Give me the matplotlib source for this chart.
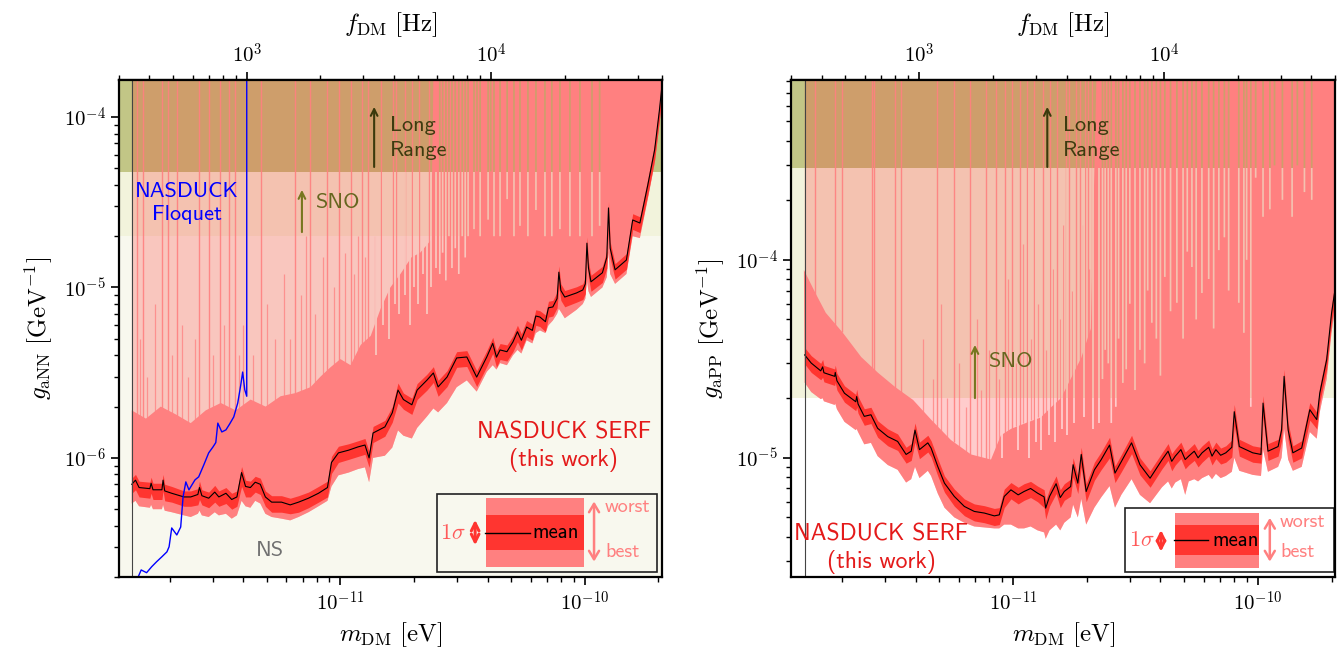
import numpy as np
import matplotlib
matplotlib.use('Agg')
import matplotlib.pyplot as plt
from matplotlib.colors import to_rgb
from matplotlib.patches import Rectangle
from matplotlib.ticker import FuncFormatter, NullFormatter

plt.rcParams['mathtext.fontset'] = 'cm'
plt.rcParams['axes.unicode_minus'] = False

H_EVS = 4.135667e-15   # eV s, m = h f
TOP = 1e-2             # above every y-limit
F_MIN, F_MAX = 300.0, 5e4
SNO_G = 2e-5

# ---------------- left panel: g_aNN ----------------
mL = [1.40e-12, 1.45e-12, 1.50e-12, 1.66e-12, 1.68e-12, 1.71e-12, 1.86e-12, 1.88e-12, 1.91e-12, 2.04e-12,
      2.29e-12, 2.44e-12, 2.61e-12, 2.65e-12, 2.71e-12, 2.89e-12, 3.06e-12, 3.18e-12, 3.40e-12, 3.59e-12,
      3.77e-12, 3.94e-12, 4.09e-12, 4.28e-12, 4.48e-12, 4.70e-12, 4.93e-12, 5.23e-12, 5.74e-12, 6.23e-12,
      6.74e-12, 7.40e-12, 8.13e-12, 8.85e-12, 9.19e-12, 9.81e-12, 1.08e-11, 1.18e-11, 1.26e-11, 1.31e-11,
      1.36e-11, 1.52e-11, 1.63e-11, 1.72e-11, 1.81e-11, 1.96e-11, 2.06e-11, 2.26e-11, 2.40e-11, 2.51e-11,
      2.73e-11, 2.99e-11, 3.29e-11, 3.61e-11, 3.97e-11, 4.20e-11, 4.35e-11, 4.50e-11, 4.80e-11, 5.08e-11,
      5.30e-11, 5.50e-11, 5.78e-11, 6.10e-11, 6.30e-11, 6.55e-11, 6.90e-11, 7.10e-11, 7.40e-11, 7.70e-11,
      7.83e-11, 7.98e-11, 8.28e-11, 9.25e-11, 9.81e-11, 1.005e-10, 1.02e-10, 1.035e-10, 1.06e-10, 1.18e-10,
      1.23e-10, 1.25e-10, 1.27e-10, 1.33e-10, 1.48e-10, 1.57e-10, 1.68e-10, 1.81e-10, 1.93e-10, 2.02e-10,
      2.08e-10]
meanL = [7.0e-7, 7.4e-7, 6.7e-7, 6.6e-7, 7.1e-7, 6.5e-7, 6.5e-7, 7.4e-7, 6.4e-7, 6.2e-7,
         5.9e-7, 5.9e-7, 6.1e-7, 6.7e-7, 6.0e-7, 5.8e-7, 6.3e-7, 5.9e-7, 6.2e-7, 5.7e-7,
         5.9e-7, 8.2e-7, 6.8e-7, 6.7e-7, 7.2e-7, 7.0e-7, 5.9e-7, 5.5e-7, 5.5e-7, 5.3e-7,
         5.5e-7, 5.8e-7, 6.2e-7, 6.7e-7, 9.4e-7, 1.07e-6, 1.11e-6, 1.16e-6, 1.19e-6, 1.0e-6,
         1.40e-6, 1.52e-6, 1.84e-6, 2.5e-6, 2.2e-6, 2.05e-6, 2.5e-6, 2.86e-6, 3.15e-6, 2.61e-6,
         2.98e-6, 3.86e-6, 3.91e-6, 2.98e-6, 3.91e-6, 4.7e-6, 3.9e-6, 4.30e-6, 4.2e-6, 4.79e-6,
         5.5e-6, 4.9e-6, 5.86e-6, 5.6e-6, 6.8e-6, 6.71e-6, 6.3e-6, 7.6e-6, 7.69e-6, 8.6e-6,
         1.23e-5, 9.6e-6, 8.79e-6, 9.29e-6, 9.67e-6, 1.05e-5, 1.82e-5, 1.3e-5, 1.08e-5, 1.22e-5,
         1.5e-5, 2.93e-5, 1.7e-5, 1.27e-5, 1.45e-5, 2.49e-5, 2.39e-5, 3.99e-5, 6.40e-5, 1.10e-4,
         1.65e-4]
sigloL = [6.2e-7, 6.5e-7, 5.9e-7, 5.8e-7, 6.2e-7, 5.7e-7, 5.7e-7, 6.4e-7, 5.6e-7, 5.5e-7,
          5.2e-7, 5.2e-7, 5.3e-7, 5.7e-7, 5.3e-7, 5.1e-7, 5.5e-7, 5.2e-7, 5.4e-7, 5.0e-7,
          5.2e-7, 6.8e-7, 5.9e-7, 5.9e-7, 6.3e-7, 6.1e-7, 5.2e-7, 4.8e-7, 4.8e-7, 4.7e-7,
          4.8e-7, 5.1e-7, 5.5e-7, 5.9e-7, 8.1e-7, 9.4e-7, 9.8e-7, 1.02e-6, 1.05e-6, 8.8e-7,
          1.23e-6, 1.34e-6, 1.62e-6, 2.1e-6, 1.93e-6, 1.80e-6, 2.2e-6, 2.5e-6, 2.77e-6, 2.3e-6,
          2.62e-6, 3.4e-6, 3.44e-6, 2.62e-6, 3.44e-6, 4.1e-6, 3.4e-6, 3.78e-6, 3.7e-6, 4.2e-6,
          4.8e-6, 4.3e-6, 5.15e-6, 4.9e-6, 6.0e-6, 5.9e-6, 5.5e-6, 6.7e-6, 6.8e-6, 7.6e-6,
          1.0e-5, 8.4e-6, 7.7e-6, 8.2e-6, 8.5e-6, 9.2e-6, 1.5e-5, 1.14e-5, 9.5e-6, 1.07e-5,
          1.3e-5, 2.4e-5, 1.48e-5, 1.12e-5, 1.28e-5, 2.19e-5, 2.1e-5, 3.5e-5, 5.6e-5, 9.7e-5,
          1.45e-4]
sighiL = [7.6e-7, 8.0e-7, 7.3e-7, 7.2e-7, 7.7e-7, 7.1e-7, 7.1e-7, 8.0e-7, 7.0e-7, 6.8e-7,
          6.4e-7, 6.4e-7, 6.6e-7, 7.3e-7, 6.5e-7, 6.3e-7, 6.9e-7, 6.4e-7, 6.7e-7, 6.2e-7,
          6.4e-7, 8.9e-7, 7.4e-7, 7.3e-7, 7.8e-7, 7.6e-7, 6.4e-7, 6.0e-7, 6.0e-7, 5.8e-7,
          6.0e-7, 6.3e-7, 6.8e-7, 7.3e-7, 1.02e-6, 1.17e-6, 1.21e-6, 1.26e-6, 1.30e-6, 1.09e-6,
          1.53e-6, 1.66e-6, 2.0e-6, 2.75e-6, 2.4e-6, 2.24e-6, 2.73e-6, 3.1e-6, 3.43e-6, 2.85e-6,
          3.25e-6, 4.2e-6, 4.26e-6, 3.25e-6, 4.26e-6, 5.1e-6, 4.25e-6, 4.69e-6, 4.6e-6, 5.2e-6,
          6.0e-6, 5.35e-6, 6.4e-6, 6.1e-6, 7.4e-6, 7.3e-6, 6.9e-6, 8.3e-6, 8.4e-6, 9.4e-6,
          1.34e-5, 1.05e-5, 9.6e-6, 1.01e-5, 1.05e-5, 1.15e-5, 1.98e-5, 1.42e-5, 1.18e-5, 1.33e-5,
          1.64e-5, 3.2e-5, 1.85e-5, 1.38e-5, 1.58e-5, 2.71e-5, 2.6e-5, 4.35e-5, 7.0e-5, 1.2e-4,
          1.8e-4]
bestL = [5.4e-7, 5.6e-7, 5.2e-7, 5.1e-7, 5.3e-7, 5.0e-7, 5.0e-7, 5.3e-7, 4.9e-7, 4.8e-7,
         4.6e-7, 4.5e-7, 4.7e-7, 4.9e-7, 4.6e-7, 4.5e-7, 4.8e-7, 4.6e-7, 4.7e-7, 4.4e-7,
         4.6e-7, 5.6e-7, 5.2e-7, 5.1e-7, 5.6e-7, 5.4e-7, 4.7e-7, 4.5e-7, 4.4e-7, 4.3e-7,
         4.5e-7, 4.8e-7, 5.2e-7, 5.6e-7, 6.8e-7, 7.9e-7, 8.2e-7, 8.6e-7, 8.8e-7, 7.2e-7,
         1.0e-6, 1.03e-6, 1.15e-6, 1.45e-6, 1.35e-6, 1.3e-6, 1.5e-6, 1.75e-6, 1.95e-6, 1.85e-6,
         2.1e-6, 2.6e-6, 2.85e-6, 2.45e-6, 3.2e-6, 3.5e-6, 3.3e-6, 3.6e-6, 3.5e-6, 4.0e-6,
         4.3e-6, 4.1e-6, 4.9e-6, 4.7e-6, 5.4e-6, 5.6e-6, 5.4e-6, 6.0e-6, 6.4e-6, 7.0e-6,
         7.5e-6, 7.2e-6, 6.6e-6, 7.4e-6, 8.0e-6, 8.6e-6, 1.1e-5, 9.5e-6, 8.8e-6, 1.0e-5,
         1.15e-5, 1.6e-5, 1.2e-5, 1.05e-5, 1.2e-5, 2.0e-5, 1.95e-5, 3.3e-5, 5.3e-5, 9.0e-5,
         1.35e-4]
# upper edge of the best-worst band, before it runs off the top
worst_mL = [1.40e-12, 1.60e-12, 1.84e-12, 2.12e-12, 2.44e-12, 2.81e-12, 3.24e-12, 3.73e-12, 4.29e-12,
            4.94e-12, 5.69e-12, 6.54e-12, 7.54e-12, 8.29e-12, 9.10e-12, 1.0e-11, 1.10e-11, 1.21e-11,
            1.33e-11, 1.46e-11, 1.60e-11, 1.76e-11, 1.95e-11, 2.12e-11, 2.35e-11, 2.50e-11]
worst_gL = [1.9e-6, 1.7e-6, 2.0e-6, 1.8e-6, 1.6e-6, 1.9e-6, 2.1e-6, 1.9e-6, 2.2e-6,
            2.0e-6, 2.3e-6, 2.4e-6, 2.6e-6, 3.0e-6, 3.4e-6, 3.8e-6, 3.5e-6, 4.6e-6,
            5.2e-6, 7.5e-6, 1.0e-5, 1.2e-5, 1.5e-5, 1.6e-5, 1.9e-5, TOP]
# pale streaks cutting down into the band where it reaches the top
gap_mL = [2.55e-11, 2.62e-11, 2.70e-11, 2.78e-11, 2.86e-11, 2.95e-11, 3.05e-11, 3.15e-11, 3.24e-11,
          3.33e-11, 3.52e-11, 3.62e-11, 3.73e-11, 4.02e-11, 4.12e-11, 4.25e-11, 4.50e-11, 4.81e-11,
          5.13e-11, 5.43e-11, 5.85e-11, 6.31e-11, 6.87e-11, 7.33e-11, 7.91e-11, 8.69e-11, 9.55e-11,
          1.07e-10, 1.15e-10]
gap_gL = [1.2e-5, 1.6e-5, 1.1e-5, 2.0e-5, 1.3e-5, 1.7e-5, 1.2e-5, 2.0e-5, 1.5e-5,
          2.0e-5, 2.2e-5, 4.8e-5, 2.0e-5, 2.5e-5, 4.8e-5, 2.0e-5, 2.0e-5, 3.3e-5,
          2.0e-5, 2.3e-5, 2.0e-5, 2.85e-5, 2.0e-5, 2.0e-5, 2.2e-5, 2.0e-5, 2.0e-5,
          2.0e-5, 2.3e-5]
# pale streaks inside the lower, sloping part of the band (lower ends)
str_mL = [1.40e-11, 1.49e-11, 1.58e-11, 1.67e-11, 1.74e-11, 1.83e-11, 1.92e-11, 2.00e-11, 2.08e-11,
          2.17e-11, 2.25e-11, 2.34e-11, 2.45e-11]
str_loL = [4.0e-6, 6.0e-6, 5.0e-6, 8.0e-6, 7.0e-6, 9.0e-6, 6.0e-6, 1.0e-5, 8.0e-6,
           1.2e-5, 7.0e-6, 1.0e-5, 1.3e-5]
# red streaks reaching the top
spk_mL = [1.47e-12, 1.56e-12, 1.86e-12, 1.97e-12, 2.14e-12, 2.63e-12, 2.89e-12, 3.21e-12, 3.49e-12,
          3.69e-12, 4.71e-12, 6.54e-12, 7.54e-12, 8.85e-12, 9.91e-12, 1.10e-11, 1.22e-11, 1.30e-11,
          1.46e-11, 1.64e-11, 1.69e-11, 1.84e-11, 1.97e-11, 2.10e-11, 2.31e-11, 2.42e-11]
spk_loL = [1.7e-6, 1.6e-6, 1.7e-6, 1.7e-6, 1.6e-6, 1.5e-6, 1.6e-6, 1.8e-6, 1.7e-6,
           1.7e-6, 1.8e-6, 2.2e-6, 2.4e-6, 3.0e-6, 3.4e-6, 3.3e-6, 4.2e-6, 4.8e-6,
           7e-6, 9e-6, 9.5e-6, 1.2e-5, 1.4e-5, 1.5e-5, 1.7e-5, 1.8e-5]
# shorter red streaks in the pale region
psk_mL = [1.52e-12, 1.62e-12, 1.75e-12, 2.05e-12, 2.25e-12, 2.38e-12, 2.55e-12, 3.0e-12, 3.35e-12,
          3.85e-12, 4.0e-12, 4.4e-12, 5.0e-12, 5.4e-12, 5.9e-12, 6.2e-12, 6.9e-12, 7.2e-12,
          7.9e-12, 8.5e-12, 9.4e-12, 1.04e-11, 1.14e-11, 1.18e-11, 1.26e-11, 1.38e-11]
psk_loL = [1.7e-6, 1.6e-6, 1.8e-6, 1.7e-6, 1.6e-6, 1.6e-6, 1.6e-6, 1.8e-6, 2.0e-6,
           1.9e-6, 1.9e-6, 2.0e-6, 2.0e-6, 2.1e-6, 2.2e-6, 2.3e-6, 2.4e-6, 2.5e-6,
           2.7e-6, 3.0e-6, 3.3e-6, 3.6e-6, 3.5e-6, 4.0e-6, 4.6e-6, 5.0e-6]
psk_hiL = [5e-6, 3e-6, 8e-6, 4e-6, 6e-6, 3e-6, 5e-6, 4e-6, 6e-6,
           4e-6, 6e-6, 4e-6, 8e-6, 5e-6, 1.2e-5, 5e-6, 9e-6, 2e-5,
           7e-6, 1.5e-5, 1e-5, 1.6e-5, 1.2e-5, 2e-5, 1.5e-5, 2e-5]
# NASDUCK Floquet (left panel only)
flq_m = [1.44e-12, 1.53e-12, 1.61e-12, 1.69e-12, 1.77e-12, 1.86e-12, 1.95e-12, 1.99e-12, 2.04e-12,
         2.14e-12, 2.22e-12, 2.27e-12, 2.33e-12, 2.40e-12, 2.44e-12, 2.54e-12, 2.63e-12, 2.76e-12,
         2.89e-12, 3.01e-12, 3.09e-12, 3.15e-12, 3.27e-12, 3.40e-12, 3.52e-12, 3.66e-12, 3.80e-12,
         3.91e-12, 3.98e-12, 4.06e-12, 4.136e-12, 4.136e-12]
flq_g = [1.8e-7, 2.2e-7, 2.12e-7, 2.30e-7, 2.46e-7, 2.63e-7, 2.81e-7, 3.01e-7, 3.88e-7,
         3.53e-7, 3.93e-7, 5.90e-7, 7.23e-7, 6.49e-7, 6.76e-7, 7.43e-7, 7.74e-7, 9.10e-7,
         1.07e-6, 1.16e-6, 1.23e-6, 1.60e-6, 1.42e-6, 1.46e-6, 1.58e-6, 1.74e-6, 2.10e-6,
         2.68e-6, 3.19e-6, 2.51e-6, 2.3e-6, TOP]

# ---------------- right panel: g_aPP ----------------
mR = [1.41e-12, 1.50e-12, 1.64e-12, 1.67e-12, 1.69e-12, 1.87e-12, 1.88e-12, 1.91e-12, 2.05e-12, 2.28e-12,
      2.30e-12, 2.33e-12, 2.47e-12, 2.63e-12, 2.80e-12, 3.08e-12, 3.38e-12, 3.66e-12, 3.84e-12, 3.98e-12,
      4.15e-12, 4.49e-12, 4.63e-12, 4.93e-12, 5.25e-12, 5.76e-12, 6.33e-12, 6.95e-12, 7.64e-12, 8.39e-12,
      8.79e-12, 9.21e-12, 9.81e-12, 1.05e-11, 1.11e-11, 1.18e-11, 1.26e-11, 1.34e-11, 1.36e-11, 1.41e-11,
      1.50e-11, 1.56e-11, 1.62e-11, 1.72e-11, 1.76e-11, 1.84e-11, 1.90e-11, 1.99e-11, 2.15e-11, 2.29e-11,
      2.48e-11, 2.61e-11, 2.77e-11, 3.05e-11, 3.30e-11, 3.63e-11, 4.06e-11, 4.30e-11, 4.45e-11, 4.60e-11,
      4.85e-11, 5.05e-11, 5.22e-11, 5.50e-11, 5.70e-11, 5.92e-11, 6.30e-11, 6.50e-11, 6.74e-11, 7.05e-11,
      7.40e-11, 7.83e-11, 8.01e-11, 8.40e-11, 9.53e-11, 1.03e-10, 1.05e-10, 1.10e-10, 1.21e-10, 1.25e-10,
      1.28e-10, 1.33e-10, 1.39e-10, 1.51e-10, 1.63e-10, 1.74e-10, 1.79e-10, 1.91e-10, 2.00e-10, 2.08e-10]
meanR = [3.31e-5, 3.01e-5, 2.75e-5, 2.88e-5, 2.69e-5, 2.58e-5, 2.70e-5, 2.45e-5, 2.12e-5, 1.92e-5,
         2.04e-5, 1.87e-5, 1.62e-5, 1.65e-5, 1.41e-5, 1.28e-5, 1.21e-5, 1.04e-5, 1.08e-5, 1.38e-5,
         1.10e-5, 1.19e-5, 1.12e-5, 9.04e-6, 7.45e-6, 6.38e-6, 5.68e-6, 5.36e-6, 5.26e-6, 5.09e-6,
         5.15e-6, 6.38e-6, 6.89e-6, 6.5e-6, 6.76e-6, 7.0e-6, 6.63e-6, 6.35e-6, 5.57e-6, 6.38e-6,
         7.4e-6, 6.3e-6, 6.76e-6, 7.16e-6, 9.23e-6, 7.45e-6, 1.04e-5, 6.76e-6, 8.69e-6, 9.77e-6,
         1.16e-5, 8.37e-6, 9.57e-6, 1.19e-5, 9.23e-6, 7.89e-6, 9.77e-6, 1.08e-5, 9.6e-6, 1.02e-5,
         1.10e-5, 9.8e-6, 1.02e-5, 1.08e-5, 1.0e-5, 1.06e-5, 1.13e-5, 1.02e-5, 1.10e-5, 1.03e-5,
         1.06e-5, 1.13e-5, 1.71e-5, 1.14e-5, 1.06e-5, 1.04e-5, 1.89e-5, 1.08e-5, 1.14e-5, 1.38e-5,
         2.58e-5, 1.38e-5, 1.06e-5, 1.12e-5, 1.75e-5, 1.56e-5, 2.12e-5, 3.13e-5, 5.38e-5, 7.48e-5]
sigloR = [2.98e-5, 2.7e-5, 2.48e-5, 2.55e-5, 2.42e-5, 2.32e-5, 2.4e-5, 2.2e-5, 1.91e-5, 1.73e-5,
          1.8e-5, 1.68e-5, 1.46e-5, 1.49e-5, 1.27e-5, 1.15e-5, 1.09e-5, 9.4e-6, 9.7e-6, 1.2e-5,
          9.9e-6, 1.07e-5, 1.01e-5, 8.1e-6, 6.7e-6, 5.7e-6, 5.1e-6, 4.8e-6, 4.7e-6, 4.55e-6,
          4.6e-6, 5.6e-6, 6.2e-6, 5.85e-6, 6.1e-6, 6.3e-6, 6.0e-6, 5.6e-6, 4.9e-6, 5.7e-6,
          6.6e-6, 5.6e-6, 6.1e-6, 6.4e-6, 8.0e-6, 6.6e-6, 9.0e-6, 6.0e-6, 7.7e-6, 8.7e-6,
          1.0e-5, 7.5e-6, 8.5e-6, 1.05e-5, 8.2e-6, 7.1e-6, 8.8e-6, 9.7e-6, 8.6e-6, 9.2e-6,
          9.9e-6, 8.8e-6, 9.2e-6, 9.7e-6, 9.0e-6, 9.5e-6, 1.02e-5, 9.2e-6, 9.9e-6, 9.3e-6,
          9.5e-6, 1.01e-5, 1.45e-5, 1.02e-5, 9.5e-6, 9.4e-6, 1.6e-5, 9.7e-6, 1.02e-5, 1.22e-5,
          2.2e-5, 1.22e-5, 9.5e-6, 1.0e-5, 1.55e-5, 1.4e-5, 1.9e-5, 2.8e-5, 4.8e-5, 6.7e-5]
sighiR = [3.6e-5, 3.28e-5, 3.0e-5, 3.14e-5, 2.93e-5, 2.81e-5, 2.94e-5, 2.67e-5, 2.31e-5, 2.09e-5,
          2.22e-5, 2.04e-5, 1.77e-5, 1.8e-5, 1.54e-5, 1.4e-5, 1.32e-5, 1.13e-5, 1.18e-5, 1.5e-5,
          1.2e-5, 1.3e-5, 1.22e-5, 9.9e-6, 8.1e-6, 6.95e-6, 6.2e-6, 5.85e-6, 5.73e-6, 5.55e-6,
          5.6e-6, 6.95e-6, 7.5e-6, 7.1e-6, 7.4e-6, 7.6e-6, 7.2e-6, 6.9e-6, 6.1e-6, 6.95e-6,
          8.1e-6, 6.9e-6, 7.4e-6, 7.8e-6, 1.0e-5, 8.1e-6, 1.13e-5, 7.4e-6, 9.5e-6, 1.07e-5,
          1.27e-5, 9.1e-6, 1.04e-5, 1.3e-5, 1.0e-5, 8.6e-6, 1.06e-5, 1.18e-5, 1.05e-5, 1.11e-5,
          1.2e-5, 1.07e-5, 1.11e-5, 1.18e-5, 1.09e-5, 1.15e-5, 1.23e-5, 1.11e-5, 1.2e-5, 1.12e-5,
          1.15e-5, 1.23e-5, 1.86e-5, 1.24e-5, 1.15e-5, 1.13e-5, 2.06e-5, 1.18e-5, 1.24e-5, 1.5e-5,
          2.8e-5, 1.5e-5, 1.15e-5, 1.22e-5, 1.9e-5, 1.7e-5, 2.3e-5, 3.4e-5, 5.9e-5, 8.2e-5]
bestR = [2.4e-5, 2.15e-5, 1.98e-5, 2.0e-5, 1.93e-5, 1.85e-5, 1.88e-5, 1.76e-5, 1.52e-5, 1.38e-5,
         1.4e-5, 1.35e-5, 1.17e-5, 1.19e-5, 1.02e-5, 9.2e-6, 8.7e-6, 7.5e-6, 7.8e-6, 9.0e-6,
         7.9e-6, 8.6e-6, 8.1e-6, 6.6e-6, 5.6e-6, 5.0e-6, 4.7e-6, 4.5e-6, 4.45e-6, 4.4e-6,
         4.4e-6, 4.6e-6, 4.6e-6, 4.4e-6, 4.4e-6, 4.5e-6, 4.3e-6, 4.2e-6, 3.9e-6, 4.3e-6,
         4.6e-6, 4.3e-6, 4.7e-6, 5.0e-6, 5.8e-6, 5.0e-6, 6.2e-6, 4.6e-6, 5.6e-6, 6.3e-6,
         7.2e-6, 5.6e-6, 6.5e-6, 7.8e-6, 6.5e-6, 5.9e-6, 7.1e-6, 7.6e-6, 7.0e-6, 7.5e-6,
         7.8e-6, 6.5e-6, 7.6e-6, 7.8e-6, 7.6e-6, 7.9e-6, 8.2e-6, 7.8e-6, 8.3e-6, 7.9e-6,
         8.1e-6, 8.5e-6, 1.0e-5, 8.6e-6, 8.2e-6, 8.1e-6, 1.1e-5, 8.5e-6, 9.0e-6, 1.0e-5,
         1.4e-5, 9.8e-6, 8.6e-6, 9.0e-6, 1.35e-5, 1.25e-5, 1.7e-5, 2.5e-5, 4.3e-5, 6.0e-5]
worst_mR = [1.40e-12, 1.56e-12, 1.72e-12, 2.02e-12, 2.40e-12, 2.81e-12, 3.30e-12, 3.91e-12, 4.63e-12,
            5.58e-12, 6.74e-12, 8.13e-12, 8.93e-12, 9.81e-12, 1.13e-11, 1.30e-11, 1.43e-11, 1.57e-11,
            1.72e-11, 1.90e-11, 2.08e-11, 2.29e-11]
worst_gR = [8.9e-5, 6.8e-5, 5.4e-5, 4.28e-5, 3.23e-5, 2.69e-5, 2.28e-5, 1.96e-5, 1.56e-5,
            1.23e-5, 1.04e-5, 9.8e-6, 1.3e-5, 1.4e-5, 1.5e-5, 1.6e-5, 1.8e-5, 2.0e-5,
            2.5e-5, 3.2e-5, 4.5e-5, TOP]
gap_mR = [2.32e-11, 2.38e-11, 2.45e-11, 2.52e-11, 2.63e-11, 2.70e-11, 2.81e-11, 2.90e-11, 3.00e-11,
          3.15e-11, 3.30e-11, 3.45e-11, 3.55e-11, 3.69e-11, 3.85e-11, 4.00e-11, 4.17e-11, 4.40e-11,
          4.67e-11, 4.95e-11, 5.15e-11, 5.38e-11, 5.60e-11, 5.91e-11, 6.30e-11, 6.60e-11, 6.93e-11,
          7.30e-11, 7.60e-11, 8.36e-11, 8.77e-11, 9.00e-11, 9.36e-11, 9.80e-11, 1.05e-10, 1.12e-10,
          1.17e-10, 1.26e-10, 1.38e-10, 1.45e-10, 1.55e-10, 1.66e-10]
gap_gR = [2.5e-5, 3.51e-5, 3.0e-5, 1.5e-5, 1.81e-5, 4.0e-5, 2.39e-5, 2.8e-5, 6.0e-5,
          2.2e-5, 3.51e-5, 3.0e-5, 7.0e-5, 4.81e-5, 4.0e-5, 2.6e-5, 8.2e-5, 5.5e-5,
          6.07e-5, 4.0e-5, 1.1e-4, 9.2e-5, 5.0e-5, 6.8e-5, 8.0e-5, 4.5e-5, 1.12e-4,
          1.3e-4, 7.0e-5, 6.07e-5, 4.28e-5, 1.0e-4, 1.81e-5, 2.6e-4, 1.65e-4, 1.8e-4,
          3.0e-4, 2.01e-4, 1.65e-4, 3.0e-4, 2.2e-4, 2.01e-4]
str_mR = [9.0e-12, 1.05e-11, 1.16e-11, 1.24e-11, 1.30e-11, 1.40e-11, 1.48e-11, 1.58e-11, 1.66e-11,
          1.78e-11, 1.95e-11, 2.12e-11, 2.25e-11]
str_loR = [1.0e-5, 1.1e-5, 1.0e-5, 1.2e-5, 1.1e-5, 1.3e-5, 1.2e-5, 1.4e-5, 1.3e-5,
           1.5e-5, 1.6e-5, 1.4e-5, 1.5e-5]
spk_mR = [1.56e-12, 1.88e-12, 2.00e-12, 2.66e-12, 2.71e-12, 3.30e-12, 3.49e-12, 4.89e-12, 5.74e-12,
          6.67e-12, 7.76e-12, 8.53e-12, 9.27e-12, 9.91e-12, 1.07e-11, 1.14e-11, 1.22e-11, 1.33e-11,
          1.42e-11, 1.51e-11, 1.64e-11, 1.69e-11, 1.81e-11, 1.87e-11, 1.97e-11, 2.02e-11, 2.10e-11,
          2.20e-11]
spk_loR = [6.5e-5, 4.6e-5, 4.3e-5, 2.8e-5, 2.7e-5, 2.2e-5, 2.1e-5, 1.4e-5, 1.2e-5,
           1.0e-5, 9.5e-6, 9.5e-6, 1.25e-5, 1.35e-5, 1.4e-5, 1.5e-5, 1.5e-5, 1.6e-5,
           1.7e-5, 1.8e-5, 2.0e-5, 2.2e-5, 2.6e-5, 2.8e-5, 3.2e-5, 3.4e-5, 4.0e-5,
           4.5e-5]
psk_mR = [4.3e-12, 4.7e-12, 5.1e-12, 5.4e-12, 6.0e-12, 6.4e-12, 7.1e-12, 7.4e-12, 8.0e-12,
          8.8e-12, 9.5e-12, 1.03e-11, 1.10e-11, 1.18e-11, 1.27e-11, 1.37e-11, 1.46e-11, 1.55e-11,
          1.60e-11, 1.75e-11, 1.93e-11, 2.05e-11]
psk_loR = [1.5e-5, 1.4e-5, 1.3e-5, 1.2e-5, 1.1e-5, 1.05e-5, 1.0e-5, 1.0e-5, 9.8e-6,
           1.2e-5, 1.35e-5, 1.45e-5, 1.5e-5, 1.55e-5, 1.6e-5, 1.7e-5, 1.8e-5, 1.9e-5,
           2.0e-5, 2.4e-5, 3.0e-5, 4.0e-5]
psk_hiR = [4e-5, 2.5e-5, 6e-5, 2e-5, 3e-5, 1.8e-5, 5e-5, 2.2e-5, 3.5e-5,
           2.5e-5, 8e-5, 3e-5, 1.2e-4, 4e-5, 6e-5, 3.5e-5, 9e-5, 5e-5,
           1.5e-4, 7e-5, 1.5e-4, 9e-5]

# colours
NS_COL = '#f8f8ee'
SNO_COL = '#f2f3dc'
LR_COL = '#c2c686'
BAND = '#ff8080'
SIG = '#ff3530'
TXT_RED = '#e41a1a'
PALE_A = 0.2
GAP_W = 1.008


def pale_of(bg):
    # colour of the pale red overlay seen on a given background
    return tuple((1 - PALE_A) * np.array(to_rgb(bg)) + PALE_A * np.array([1.0, 0.0, 0.0]))


def pow_fmt(v, pos):
    return r'$10^{%d}$' % int(round(np.log10(v)))


def draw_panel(ax, m, mean, lo, hi, best, wm, wg, gm, gg, stm, stlo, sm, slo, pm, plo, phi,
               ylim, yt, lr, ns):
    xmin, xmax = F_MIN * H_EVS, F_MAX * H_EVS
    ax.set_xscale('log')
    ax.set_yscale('log')
    base = NS_COL if ns else 'white'
    if ns:
        ax.axhspan(1e-12, 1, color=NS_COL, lw=0, zorder=0)
    ax.axhspan(SNO_G, 1, color=SNO_COL, lw=0, zorder=0.1)
    ax.axhspan(lr, 1, color=LR_COL, lw=0, zorder=0.2)

    m = np.array(m)
    best = np.array(best)
    # pale exclusion above the curves
    ax.fill_between(m, best, TOP, color='red', alpha=PALE_A, lw=0, zorder=1)
    ax.vlines(pm, plo, phi, color=BAND, lw=0.9, alpha=0.75, zorder=2)
    ax.vlines(sm, slo, TOP, color=BAND, lw=1.0, alpha=0.9, zorder=2)

    # worst edge: listed part, then top with pale gaps
    em = list(wm)
    eg = list(wg)
    for a, b in zip(gm, gg):
        em += [a / GAP_W, a / GAP_W, a * GAP_W, a * GAP_W]
        eg += [TOP, b, b, TOP]
    em += [xmax * 1.2]
    eg += [TOP]
    ax.fill(np.r_[m, em[::-1]], np.r_[best, eg[::-1]], color=BAND, lw=0, zorder=3)
    # pale streaks reaching down into the sloping part of the band
    ax.vlines(stm, stlo, SNO_G, color=pale_of(base), lw=1.3, zorder=3.5)
    ax.vlines(stm, SNO_G, lr, color=pale_of(SNO_COL), lw=1.3, zorder=3.5)

    ax.fill_between(m, lo, hi, color=SIG, lw=0, zorder=4)
    ax.plot(m, mean, color='k', lw=0.8, zorder=5)
    ax.axvline(m[0], color='#444444', lw=0.8, zorder=6)

    for sp in ax.spines.values():
        sp.set_linewidth(1.6)
        sp.set_zorder(20)
    ax.set_xticks([1e-11, 1e-10])
    ax.set_yticks(yt)
    ax.tick_params(which='major', length=6, width=1.2, labelsize=15)
    ax.tick_params(which='minor', length=3.5, width=1.0)
    ax.xaxis.set_major_formatter(FuncFormatter(pow_fmt))
    ax.xaxis.set_minor_formatter(NullFormatter())
    ax.yaxis.set_major_formatter(FuncFormatter(pow_fmt))
    ax.yaxis.set_minor_formatter(NullFormatter())
    ax.set_xlim(xmin, xmax)
    ax.set_ylim(*ylim)
    ax.set_xlabel(r'$m_{\rm DM}\ [{\rm eV}]$', fontsize=18, labelpad=4)

    sec = ax.secondary_xaxis('top', functions=(lambda x: x / H_EVS, lambda f: f * H_EVS))
    sec.set_xticks([1e3, 1e4])
    sec.tick_params(which='major', length=6, width=1.2, labelsize=15)
    sec.tick_params(which='minor', length=3.5, width=1.0)
    sec.xaxis.set_major_formatter(FuncFormatter(pow_fmt))
    sec.xaxis.set_minor_formatter(NullFormatter())
    sec.spines['top'].set_linewidth(1.6)
    sec.set_xlabel(r'$f_{\rm DM}\ [{\rm Hz}]$', fontsize=18, labelpad=8)


def arrow(ax, x, y0, y1, col, style='->', lw=1.5, ms=12):
    ax.annotate('', xy=(x, y1), xytext=(x, y0), xycoords='axes fraction',
                arrowprops=dict(arrowstyle=style, color=col, lw=lw, mutation_scale=ms,
                                shrinkA=0, shrinkB=0), zorder=12)


def txt(ax, x, y, s, col, size=16, ha='left'):
    ax.text(x, y, s, transform=ax.transAxes, color=col, fontsize=size, ha=ha,
            va='center', family='cmss10', zorder=12)


def legend_box(ax, box, light, dark, line, mean_x, sig_x, red_ar, pink_ar, wb_x, worst_y, best_y, face):
    T = ax.transAxes
    ax.add_patch(Rectangle((box[0], box[1]), box[2] - box[0], box[3] - box[1], transform=T,
                           facecolor=face, edgecolor='#222222', lw=1.2, zorder=10))
    ax.add_patch(Rectangle((light[0], light[1]), light[2] - light[0], light[3] - light[1], transform=T,
                           facecolor=BAND, lw=0, zorder=11))
    ax.add_patch(Rectangle((light[0], dark[0]), light[2] - light[0], dark[1] - dark[0], transform=T,
                           facecolor=SIG, lw=0, zorder=11))
    ax.plot([line[0], line[1]], [line[2], line[2]], transform=T, color='k', lw=1.0, zorder=12)
    ax.text(mean_x, line[2], 'mean', transform=T, fontsize=15, family='cmss10', va='center',
            ha='left', color='k', zorder=12)
    ax.text(sig_x, line[2], r'$1\sigma$', transform=T, fontsize=16, va='center', ha='center',
            color='#ff5a5a', zorder=12)
    arrow(ax, red_ar[0], red_ar[1], red_ar[2], SIG, style='<->,head_length=0.5,head_width=0.25',
          lw=2.2, ms=11)
    arrow(ax, pink_ar[0], pink_ar[1], pink_ar[2], BAND, style='<->,head_length=0.5,head_width=0.3',
          lw=1.8, ms=12)
    ax.text(wb_x, worst_y, 'worst', transform=T, fontsize=14.5, family='cmss10', va='center',
            ha='left', color=BAND, zorder=12)
    ax.text(wb_x, best_y, 'best', transform=T, fontsize=14.5, family='cmss10', va='center',
            ha='left', color=BAND, zorder=12)


fig = plt.figure(figsize=(13.41, 6.5), dpi=100)
axL = fig.add_axes([0.0887, 0.1123, 0.4049, 0.7646])
axR = fig.add_axes([0.5899, 0.1123, 0.4057, 0.7646])

# left
draw_panel(axL, mL, meanL, sigloL, sighiL, bestL, worst_mL, worst_gL, gap_mL, gap_gL,
           str_mL, str_loL, spk_mL, spk_loL, psk_mL, psk_loL, psk_hiL,
           (2.0e-7, 1.65e-4), [1e-6, 1e-5, 1e-4], 4.76e-5, True)
axL.plot(flq_m, flq_g, color='blue', lw=1.0, zorder=7)
axL.set_ylabel(r'$g_{\rm aNN}\ [{\rm GeV}^{-1}]$', fontsize=18, labelpad=6)
txt(axL, 0.125, 0.775, 'NASDUCK', 'blue', ha='center')
txt(axL, 0.125, 0.730, 'Floquet', 'blue', ha='center')
arrow(axL, 0.337, 0.694, 0.779, '#77771f')
txt(axL, 0.361, 0.753, 'SNO', '#66661f')
arrow(axL, 0.470, 0.825, 0.946, '#3a3a0c')
txt(axL, 0.499, 0.909, 'Long', '#3d3b10')
txt(axL, 0.499, 0.859, 'Range', '#3d3b10')
txt(axL, 0.278, 0.054, 'NS', '#707070', ha='center')
txt(axL, 0.819, 0.290, 'NASDUCK SERF', TXT_RED, size=17, ha='center')
txt(axL, 0.819, 0.235, '(this work)', TXT_RED, size=17, ha='center')
legend_box(axL, (0.585, 0.011, 0.991, 0.168), (0.676, 0.0195, 0.856, 0.158), (0.054, 0.125),
           (0.674, 0.757, 0.089), 0.762, 0.615, (0.656, 0.064, 0.115), (0.875, 0.031, 0.152),
           0.895, 0.140, 0.051, NS_COL)

# right
draw_panel(axR, mR, meanR, sigloR, sighiR, bestR, worst_mR, worst_gR, gap_mR, gap_gR,
           str_mR, str_loR, spk_mR, spk_loR, psk_mR, psk_loR, psk_hiR,
           (2.5e-6, 8.1e-4), [1e-5, 1e-4], 2.9e-4, False)
axR.set_ylabel(r'$g_{\rm aPP}\ [{\rm GeV}^{-1}]$', fontsize=18, labelpad=6)
arrow(axR, 0.338, 0.360, 0.467, '#77771f')
txt(axR, 0.362, 0.433, 'SNO', '#66661f')
arrow(axR, 0.471, 0.825, 0.946, '#3a3a0c')
txt(axR, 0.500, 0.909, 'Long', '#3d3b10')
txt(axR, 0.500, 0.859, 'Range', '#3d3b10')
txt(axR, 0.165, 0.0865, 'NASDUCK SERF', TXT_RED, size=17, ha='center')
txt(axR, 0.167, 0.030, '(this work)', TXT_RED, size=17, ha='center')
legend_box(axR, (0.613, 0.0095, 0.998, 0.138), (0.705, 0.019, 0.861, 0.128), (0.044, 0.105),
           (0.704, 0.767, 0.0744), 0.774, 0.645, (0.680, 0.051, 0.0946), (0.880, 0.031, 0.119),
           0.899, 0.111, 0.050, 'white')

fig.savefig('out.png', dpi=100)
